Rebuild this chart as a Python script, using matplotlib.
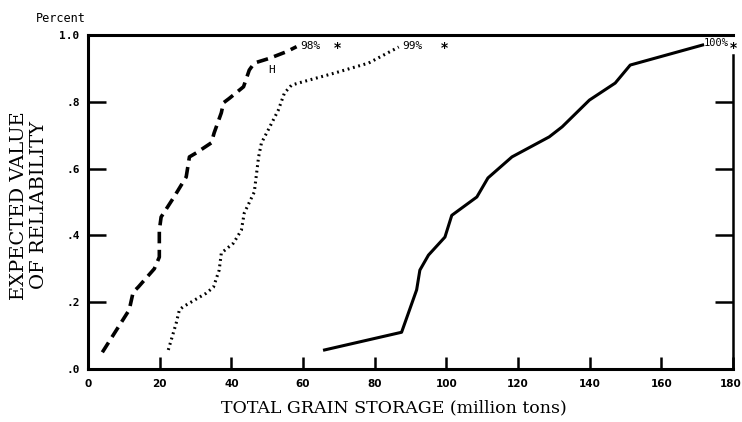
import numpy as np
import matplotlib.pyplot as plt
from matplotlib.transforms import ScaledTranslation

# reliability curves for three target levels (grain storage in million tons)
x98 = [4, 11.5, 12.6, 14, 18.5, 19.9, 19.9, 20.4, 24, 27.4, 28.3, 30.2, 34.4, 35.2,
       37.2, 37.8, 39.4, 43.4, 45, 46.4, 50.6, 55.4, 58.2]
y98 = [0.05, 0.177, 0.23, 0.245, 0.30, 0.335, 0.415, 0.455, 0.515, 0.575, 0.635, 0.647,
       0.677, 0.707, 0.767, 0.797, 0.81, 0.845, 0.895, 0.916, 0.93, 0.95, 0.965]

x99 = [22.4, 24.6, 25.5, 26.5, 33, 35, 36.6, 37.2, 40.6, 42.8, 43.6, 46.4, 47.6, 48.4,
       50.3, 53.1, 54.8, 56.8, 60, 68.8, 78.3, 86.7]
y99 = [0.057, 0.137, 0.177, 0.186, 0.227, 0.245, 0.296, 0.347, 0.377, 0.416, 0.467,
       0.53, 0.635, 0.677, 0.716, 0.775, 0.826, 0.85, 0.86, 0.886, 0.916, 0.964]

x100 = [66, 87.5, 91.7, 92.6, 95, 99.6, 101.5, 108.5, 111.6, 118.3, 128.7, 132.3,
        139.9, 147.1, 151.3, 171.5]
y100 = [0.057, 0.11, 0.237, 0.296, 0.341, 0.395, 0.46, 0.515, 0.572, 0.635, 0.695,
        0.725, 0.805, 0.856, 0.91, 0.97]

xticks = [0, 20, 40, 60, 80, 100, 120, 140, 160, 180]
yticks = [0, 0.2, 0.4, 0.6, 0.8, 1.0]
ytick_labels = [".0", ".2", ".4", ".6", ".8", "1.0"]

fig = plt.figure(figsize=(7.42, 4.22), dpi=100)
ax = fig.add_axes([0.1186, 0.1256, 0.8694, 0.7915])

ax.plot(x98, y98, color="black", lw=2.6, dashes=(3.2, 1.8), solid_capstyle="butt")
ax.plot(x99, y99, color="black", lw=2.2, dashes=(0.6, 1.2))
ax.plot(x100, y100, color="black", lw=2.2)

mono = "DejaVu Sans Mono"
ax.text(x98[-1] + 1, y98[-1] + 0.003, "98%", fontsize=8, family=mono, va="center")
ax.text(68.5, 0.962, "*", fontsize=10, fontweight="bold", va="center")
ax.text(x99[-1] + 1, y99[-1] + 0.003, "99%", fontsize=8, family=mono, va="center")
ax.text(98.5, 0.962, "*", fontsize=10, fontweight="bold", va="center")
ax.text(x100[-1] + 0.2, 0.975, "100%", fontsize=7.5, family=mono, va="center")
ax.text(179.2, 0.962, "*", fontsize=10, fontweight="bold", va="center")
ax.text(51.2, 0.895, "H", fontsize=8, family=mono, va="center", ha="center")

ax.set_xlim(0, 180)
ax.set_ylim(0, 1.0)
ax.set_xticks(xticks)
ax.set_xticklabels([str(t) for t in xticks], fontsize=7.5, family="DejaVu Sans",
                   fontweight="bold")
ax.set_yticks(yticks)
ax.set_yticklabels(ytick_labels, fontsize=8, family=mono, fontweight="bold")
ax.tick_params(axis="x", direction="in", length=9, width=1.8, pad=7)
ax.tick_params(axis="y", direction="in", length=13, width=1.8, pad=6, right=True)

# keep the last x label inside the figure edge
last = ax.get_xticklabels()[-1]
last.set_horizontalalignment("right")
last.set_transform(last.get_transform() + ScaledTranslation(6 / 72, 0, fig.dpi_scale_trans))

for side in ["left", "bottom", "top"]:
    ax.spines[side].set_linewidth(2.2)
ax.spines["right"].set_linewidth(1.8)
ax.spines["right"].set_bounds(0, 0.94)

ax.text(-0.003, 1.03, "Percent", transform=ax.transAxes, fontsize=8.5,
        family=mono, ha="right", va="bottom")

ax.set_xlabel("TOTAL GRAIN STORAGE (million tons)", fontsize=12.5,
              family="DejaVu Serif")
ax.xaxis.set_label_coords(0.474, -0.092)
ax.set_ylabel("EXPECTED VALUE\nOF RELIABILITY", fontsize=14,
              family="DejaVu Serif", linespacing=1.15)
ax.yaxis.set_label_coords(-0.062, 0.49)

fig.savefig("out.png", dpi=100)
